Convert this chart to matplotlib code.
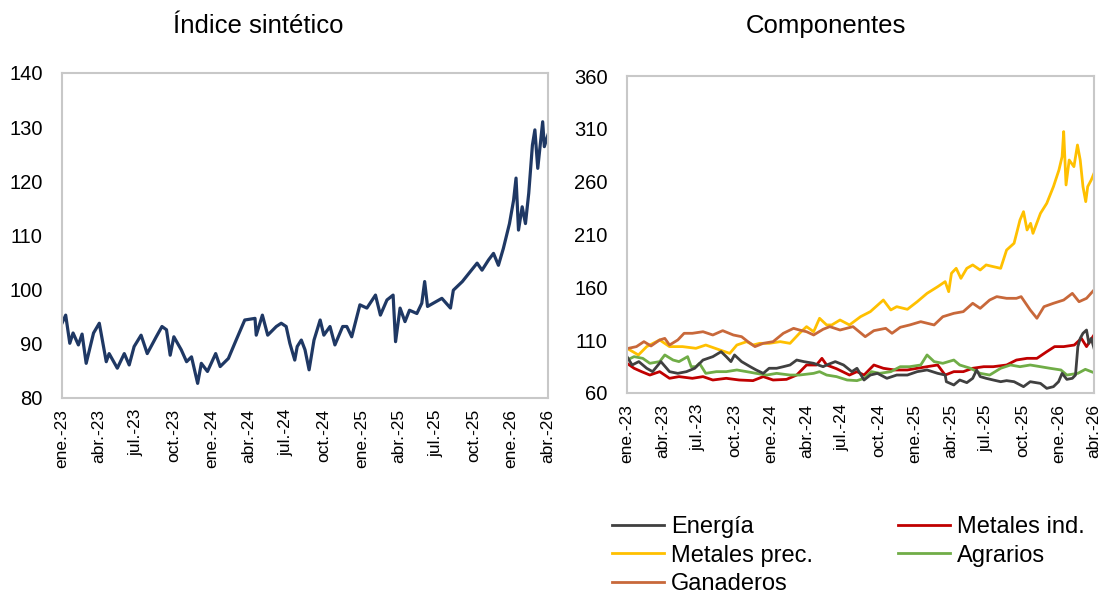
import matplotlib
matplotlib.use('Agg')
import matplotlib.pyplot as plt
import pandas as pd

plt.rcParams['font.family'] = ['Liberation Sans', 'DejaVu Sans']

# Indice sintetico (left panel)
idx_dates = ['2023-01-01', '2023-01-10', '2023-01-20', '2023-01-28', '2023-02-10', '2023-02-19',
             '2023-03-01', '2023-03-19', '2023-04-02', '2023-04-19', '2023-04-26', '2023-05-16',
             '2023-06-02', '2023-06-14', '2023-06-26', '2023-07-13', '2023-07-28', '2023-08-19',
             '2023-09-02', '2023-09-13', '2023-09-22', '2023-10-01', '2023-10-19', '2023-11-01',
             '2023-11-13', '2023-11-28', '2023-12-07', '2023-12-22', '2024-01-11', '2024-01-22',
             '2024-02-11', '2024-03-01', '2024-03-22', '2024-04-16', '2024-04-19', '2024-05-04',
             '2024-05-17', '2024-06-07', '2024-06-19', '2024-07-01', '2024-07-10', '2024-07-22',
             '2024-07-28', '2024-08-07', '2024-08-16', '2024-08-26', '2024-09-07', '2024-09-22',
             '2024-10-01', '2024-10-16', '2024-10-28', '2024-11-16', '2024-11-26', '2024-12-08',
             '2024-12-28', '2025-01-14', '2025-02-04', '2025-02-16', '2025-03-04', '2025-03-19',
             '2025-03-25', '2025-04-05', '2025-04-17', '2025-04-28', '2025-05-16', '2025-05-28',
             '2025-06-04', '2025-06-11', '2025-06-25', '2025-07-16', '2025-08-06', '2025-08-13',
             '2025-09-04', '2025-09-23', '2025-10-10', '2025-10-22', '2025-11-07', '2025-11-19',
             '2025-12-01', '2025-12-13', '2025-12-28', '2026-01-07', '2026-01-13', '2026-01-19',
             '2026-01-28', '2026-02-05', '2026-02-13', '2026-02-22', '2026-02-28', '2026-03-07',
             '2026-03-19', '2026-03-23', '2026-04-01']
idx_values = [93.8, 95.3, 90.1, 92.0, 89.8, 91.8, 86.4, 92.0, 93.8, 86.7, 88.2, 85.5,
              88.2, 86.1, 89.5, 91.6, 88.2, 91.3, 93.2, 92.6, 87.9, 91.3, 88.9, 86.7,
              87.6, 82.7, 86.4, 84.9, 88.2, 85.8, 87.3, 90.7, 94.4, 94.7, 91.6, 95.3,
              91.6, 93.2, 93.8, 93.2, 90.1, 87.0, 89.5, 90.7, 88.9, 85.2, 90.7, 94.4,
              91.6, 93.2, 89.8, 93.2, 93.2, 91.3, 97.2, 96.6, 99.0, 95.3, 98.1, 99.0,
              90.4, 96.6, 94.1, 96.2, 95.6, 97.5, 101.5, 96.9, 97.5, 98.4, 96.6, 99.9,
              101.5, 103.3, 104.9, 103.6, 105.5, 106.7, 104.5, 107.6, 112.2, 116.5, 120.6, 111.0,
              115.3, 112.2, 117.8, 126.7, 129.5, 122.4, 131.0, 126.4, 128.6]

# Componentes (right panel), (fecha, valor)
energia = [('2023-01-01', 94.4), ('2023-01-14', 86.5), ('2023-01-31', 89.7), ('2023-02-20', 83.4),
           ('2023-03-07', 80.2), ('2023-03-28', 89.7), ('2023-04-19', 80.2), ('2023-05-10', 78.6),
           ('2023-06-01', 80.2), ('2023-06-22', 83.4), ('2023-07-13', 91.2), ('2023-08-07', 94.4),
           ('2023-08-28', 99.1), ('2023-09-10', 94.4), ('2023-09-22', 89.7), ('2023-10-01', 96.0),
           ('2023-10-19', 89.7), ('2023-11-10', 84.9), ('2023-11-25', 81.8), ('2023-12-13', 78.6),
           ('2023-12-28', 83.4), ('2024-01-16', 83.4), ('2024-02-02', 84.9), ('2024-02-19', 86.5),
           ('2024-03-07', 91.2), ('2024-03-25', 89.7), ('2024-04-19', 88.1), ('2024-05-13', 84.9),
           ('2024-05-22', 86.5), ('2024-06-13', 89.7), ('2024-07-04', 86.5), ('2024-07-25', 80.2),
           ('2024-08-07', 83.4), ('2024-08-25', 72.3), ('2024-09-10', 77.0), ('2024-09-28', 78.6),
           ('2024-10-22', 73.9), ('2024-11-16', 77.0), ('2024-12-13', 77.0), ('2025-01-07', 80.2),
           ('2025-02-01', 81.8), ('2025-02-28', 78.6), ('2025-03-19', 77.0), ('2025-03-22', 70.7),
           ('2025-04-10', 67.6), ('2025-04-25', 72.3), ('2025-05-13', 69.8), ('2025-05-28', 73.9),
           ('2025-06-07', 81.8), ('2025-06-16', 75.5), ('2025-07-01', 73.9), ('2025-07-19', 72.3),
           ('2025-08-07', 70.7), ('2025-08-22', 71.7), ('2025-09-10', 70.7), ('2025-10-04', 66.0),
           ('2025-10-21', 70.7), ('2025-11-16', 69.1), ('2025-12-02', 64.4), ('2025-12-19', 66.0),
           ('2026-01-01', 70.7), ('2026-01-10', 78.6), ('2026-01-22', 72.9), ('2026-02-05', 73.9),
           ('2026-02-13', 77.0), ('2026-02-19', 103.9), ('2026-02-25', 111.7), ('2026-03-04', 116.5),
           ('2026-03-13', 119.6), ('2026-03-19', 107.0), ('2026-03-25', 111.7), ('2026-04-01', 102.3)]

metales_ind = [('2023-01-01', 88.1), ('2023-01-19', 83.4), ('2023-02-07', 80.2), ('2023-02-28', 77.0),
               ('2023-03-25', 80.2), ('2023-04-19', 73.9), ('2023-05-13', 75.5), ('2023-06-16', 73.9),
               ('2023-07-13', 75.5), ('2023-08-07', 72.3), ('2023-09-10', 73.9), ('2023-10-13', 72.3),
               ('2023-11-17', 71.7), ('2023-12-13', 75.5), ('2024-01-07', 72.3), ('2024-02-10', 72.9),
               ('2024-03-07', 77.0), ('2024-04-01', 86.5), ('2024-04-26', 86.5), ('2024-05-10', 92.8),
               ('2024-05-22', 86.5), ('2024-06-16', 83.0), ('2024-07-19', 77.0), ('2024-08-07', 80.2),
               ('2024-08-25', 77.0), ('2024-09-19', 86.5), ('2024-10-13', 83.4), ('2024-11-10', 81.8),
               ('2024-12-13', 81.8), ('2025-01-07', 83.4), ('2025-02-01', 84.9), ('2025-02-28', 86.5),
               ('2025-03-19', 77.0), ('2025-04-10', 80.2), ('2025-05-04', 80.2), ('2025-05-28', 83.4),
               ('2025-06-25', 84.9), ('2025-07-19', 84.9), ('2025-08-22', 86.5), ('2025-09-16', 91.2),
               ('2025-10-13', 92.8), ('2025-11-07', 92.8), ('2025-12-02', 99.1), ('2025-12-22', 103.9),
               ('2026-01-14', 103.9), ('2026-02-10', 105.4), ('2026-02-28', 111.7), ('2026-03-13', 103.9),
               ('2026-04-01', 114.9)]

metales_prec = [('2023-01-01', 102.3), ('2023-01-30', 96.0), ('2023-02-20', 103.9), ('2023-03-25', 110.2),
                ('2023-04-19', 103.9), ('2023-05-22', 103.9), ('2023-06-25', 102.3), ('2023-07-20', 105.4),
                ('2023-08-25', 100.7), ('2023-09-19', 97.5), ('2023-10-07', 105.4), ('2023-11-01', 108.6),
                ('2023-11-17', 105.4), ('2023-12-04', 107.0), ('2023-12-28', 107.0), ('2024-01-25', 108.6),
                ('2024-02-19', 107.0), ('2024-03-14', 116.5), ('2024-04-01', 122.8), ('2024-04-19', 118.0),
                ('2024-05-04', 130.7), ('2024-05-22', 124.4), ('2024-06-04', 124.4), ('2024-06-25', 129.1),
                ('2024-07-19', 124.4), ('2024-08-16', 132.2), ('2024-09-10', 137.0), ('2024-10-13', 148.0),
                ('2024-11-01', 138.6), ('2024-11-16', 141.7), ('2024-12-13', 139.2), ('2025-01-07', 146.4),
                ('2025-02-01', 154.3), ('2025-02-28', 160.6), ('2025-03-19', 165.4), ('2025-03-28', 155.9),
                ('2025-04-04', 173.3), ('2025-04-16', 178.0), ('2025-04-28', 168.5), ('2025-05-13', 178.0),
                ('2025-05-28', 181.2), ('2025-06-16', 176.4), ('2025-07-01', 181.2), ('2025-07-19', 179.6),
                ('2025-08-07', 178.0), ('2025-08-22', 195.3), ('2025-09-10', 201.7), ('2025-09-25', 223.7),
                ('2025-10-04', 231.6), ('2025-10-13', 214.3), ('2025-10-22', 220.6), ('2025-10-28', 211.1),
                ('2025-11-16', 230.0), ('2025-12-02', 239.5), ('2025-12-19', 255.3), ('2026-01-02', 271.1),
                ('2026-01-10', 283.7), ('2026-01-14', 307.4), ('2026-01-20', 256.9), ('2026-01-28', 280.5),
                ('2026-02-09', 274.2), ('2026-02-18', 294.7), ('2026-02-25', 280.5), ('2026-03-04', 255.3),
                ('2026-03-11', 241.1), ('2026-03-16', 255.3), ('2026-03-25', 261.6), ('2026-04-01', 267.9)]

agrarios = [('2023-01-01', 91.2), ('2023-01-19', 94.4), ('2023-02-10', 92.8), ('2023-02-28', 88.1),
            ('2023-03-25', 89.7), ('2023-04-07', 96.0), ('2023-04-28', 91.2), ('2023-05-13', 89.7),
            ('2023-06-04', 94.4), ('2023-06-13', 84.9), ('2023-06-25', 84.9), ('2023-07-04', 88.1),
            ('2023-07-20', 78.6), ('2023-08-16', 80.2), ('2023-09-10', 80.2), ('2023-10-07', 81.8),
            ('2023-11-01', 80.2), ('2023-11-25', 78.6), ('2023-12-22', 77.0), ('2024-01-16', 78.6),
            ('2024-02-19', 77.0), ('2024-03-14', 77.0), ('2024-04-19', 78.6), ('2024-05-04', 80.2),
            ('2024-05-22', 77.0), ('2024-06-16', 75.5), ('2024-07-13', 72.3), ('2024-08-07', 71.7),
            ('2024-08-25', 73.9), ('2024-09-13', 80.2), ('2024-10-04', 78.6), ('2024-11-01', 80.2),
            ('2024-11-25', 84.9), ('2024-12-19', 84.9), ('2025-01-16', 86.5), ('2025-02-01', 96.0),
            ('2025-02-19', 89.7), ('2025-03-13', 88.1), ('2025-04-10', 91.2), ('2025-04-25', 86.5),
            ('2025-05-22', 83.4), ('2025-06-16', 78.6), ('2025-07-10', 77.0), ('2025-08-07', 83.4),
            ('2025-09-01', 86.5), ('2025-09-25', 84.9), ('2025-10-21', 86.5), ('2025-11-16', 84.9),
            ('2025-12-10', 83.4), ('2026-01-07', 81.8), ('2026-01-22', 77.0), ('2026-02-19', 78.6),
            ('2026-03-10', 82.4), ('2026-04-01', 79.2)]

ganaderos = [('2023-01-01', 102.0), ('2023-01-25', 103.9), ('2023-02-13', 108.6), ('2023-03-03', 104.5),
             ('2023-03-25', 110.2), ('2023-04-07', 111.7), ('2023-04-19', 105.4), ('2023-05-10', 110.2),
             ('2023-05-26', 116.5), ('2023-06-16', 116.5), ('2023-07-13', 118.0), ('2023-08-07', 114.9),
             ('2023-09-01', 119.0), ('2023-09-28', 114.9), ('2023-10-19', 113.3), ('2023-11-04', 108.6),
             ('2023-11-22', 103.9), ('2023-12-13', 107.0), ('2024-01-07', 108.6), ('2024-02-02', 116.5),
             ('2024-02-28', 121.2), ('2024-03-14', 119.6), ('2024-04-01', 118.0), ('2024-04-19', 114.9),
             ('2024-05-13', 120.3), ('2024-05-30', 122.8), ('2024-06-25', 119.6), ('2024-07-28', 122.8),
             ('2024-08-28', 113.3), ('2024-09-19', 119.0), ('2024-10-19', 121.2), ('2024-11-04', 116.5),
             ('2024-11-25', 122.2), ('2024-12-19', 124.4), ('2025-01-16', 127.5), ('2025-02-19', 124.4),
             ('2025-03-13', 132.2), ('2025-04-10', 135.4), ('2025-05-04', 137.0), ('2025-05-28', 144.9),
             ('2025-06-16', 140.1), ('2025-07-10', 148.0), ('2025-07-28', 151.2), ('2025-08-22', 149.6),
             ('2025-09-16', 149.6), ('2025-09-28', 151.2), ('2025-10-21', 138.6), ('2025-11-07', 130.7),
             ('2025-11-25', 141.7), ('2025-12-19', 144.9), ('2026-01-14', 148.0), ('2026-02-05', 154.3),
             ('2026-02-22', 146.4), ('2026-03-13', 149.6), ('2026-04-01', 157.5)]

tick_dates = pd.date_range('2023-01-01', '2026-04-01', freq='QS')
tick_labels = ['ene.-23', 'abr.-23', 'jul.-23', 'oct.-23', 'ene.-24', 'abr.-24', 'jul.-24',
               'oct.-24', 'ene.-25', 'abr.-25', 'jul.-25', 'oct.-25', 'ene.-26', 'abr.-26']


def style_axis(ax, yticks):
    ax.set_xlim(pd.Timestamp('2023-01-01'), pd.Timestamp('2026-04-01'))
    ax.set_ylim(yticks[0], yticks[-1])
    ax.set_yticks(yticks)
    ax.set_xticks(tick_dates)
    ax.set_xticklabels(tick_labels, rotation=90, fontsize=12.5)
    ax.tick_params(axis='y', length=0, pad=14, labelsize=14.5)
    ax.tick_params(axis='x', length=0, pad=8)
    for s in ax.spines.values():
        s.set_color('#C8C8C8')
        s.set_linewidth(1.5)


fig = plt.figure(figsize=(11.05, 5.94), dpi=100)

ax1 = fig.add_axes([62 / 1105, 1 - 398 / 594, 486 / 1105, 325 / 594])
ax1.plot(pd.to_datetime(idx_dates), idx_values, color='#1F3864', lw=2.3)
style_axis(ax1, list(range(80, 141, 10)))
fig.text(258 / 1105, 1 - 26 / 594, 'Índice sintético', ha='center', va='center', fontsize=18.5)

ax2 = fig.add_axes([627 / 1105, 1 - 393 / 594, 467 / 1105, 317 / 594])
series = [(metales_ind, 'Metales ind.', '#C00000'),
          (metales_prec, 'Metales prec.', '#FFC000'),
          (agrarios, 'Agrarios', '#70AD47'),
          (ganaderos, 'Ganaderos', '#C8683A'),
          (energia, 'Energía', '#404040')]
lines = {}
for data, name, col in series:
    d = pd.to_datetime([p[0] for p in data])
    v = [p[1] for p in data]
    lines[name], = ax2.plot(d, v, color=col, lw=2, label=name)
style_axis(ax2, list(range(60, 361, 50)))
fig.text(826 / 1105, 1 - 26 / 594, 'Componentes', ha='center', va='center', fontsize=18.5)

# legend fills column-wise: left column Energía / Metales prec. / Ganaderos
order = ['Energía', 'Metales prec.', 'Ganaderos', 'Metales ind.', 'Agrarios']
fig.legend([lines[n] for n in order], order, ncol=2, frameon=False, fontsize=17,
           loc='upper left', bbox_to_anchor=(612 / 1105, 1 - 516 / 594),
           borderpad=0, borderaxespad=0, handlelength=2.2, handletextpad=0.3,
           columnspacing=3.6, labelspacing=0.28)

fig.savefig('out.png', dpi=100)
